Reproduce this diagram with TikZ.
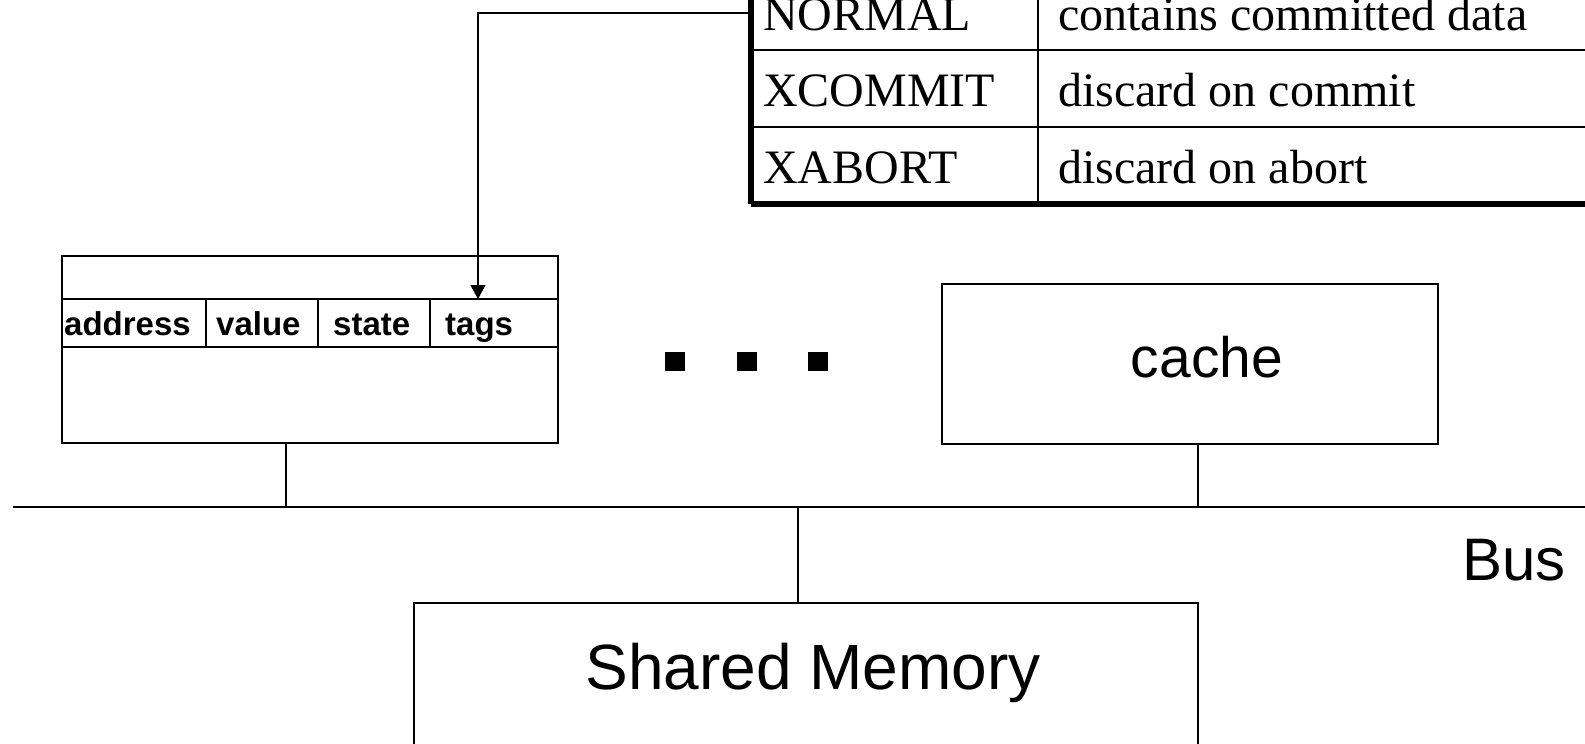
\documentclass[tikz,border=0pt]{standalone}
\usepackage{fontspec}
\setmainfont{Liberation Serif}
\newfontfamily\arialfont{Liberation Sans}
\usetikzlibrary{arrows.meta}

\begin{document}
\begin{tikzpicture}[x=1pt,y=-1pt,
  frame/.style={draw, line width=2pt, inner sep=0pt, outer sep=0pt},
  wire/.style={line width=1.4pt},
  rule/.style={line width=2pt},
  tabtext/.style={font=\fontsize{48}{56}\selectfont, anchor=base west, inner sep=0pt},
  fieldtext/.style={font=\arialfont\bfseries\fontsize{33}{38}\selectfont, anchor=base west, inner sep=0pt},
  bigtext/.style={font=\arialfont\fontsize{60}{70}\selectfont, anchor=base, inner sep=0pt},
  dotmark/.style={fill, minimum width=20pt, minimum height=19pt, inner sep=0pt, outer sep=0pt}]
\useasboundingbox (0,0) rectangle (1585,744);
\clip (0,0) rectangle (1585,744);

% state table (shadowed frame, running off the top and right)
\draw[line width=3pt] (752,-40) -- (752,205) -- (1600,205);
\draw[line width=3pt] (749,-40) -- (749,202) -- (1600,202);
\draw[rule] (749,50) -- (1600,50) (749,127) -- (1600,127);
\draw[line width=1.3pt] (1038,-40) -- (1038,202);
\node[tabtext] (t-normal)  at (763,30)  {NORMAL};
\node[tabtext] (t-xcommit) at (763,106) {XCOMMIT};
\node[tabtext] (t-xabort)  at (763,183) {XABORT};
\node[tabtext] (d-normal)  at (1058,30)  {contains committed data};
\node[tabtext] (d-xcommit) at (1058,106) {discard on commit};
\node[tabtext] (d-xabort)  at (1058,183) {discard on abort};

% cache line layout
\node[frame, minimum width=496pt, minimum height=187pt] (lcache) at (310,349.5) {};
\draw[rule] (62,299) -- (558,299) (62,347) -- (558,347);
\draw[rule] (206,299) -- (206,347) (318,299) -- (318,347) (430,299) -- (430,347);
\node[fieldtext] (f-address) at (64,335)  {address};
\node[fieldtext] (f-value)   at (216,335) {value};
\node[fieldtext] (f-state)   at (333,335) {state};
\node[fieldtext] (f-tags)    at (445,335) {tags};

% pointer from the table to the tags field
\coordinate (tbl-port) at (749,13);
\coordinate (tags-port) at (478,299);
\draw[wire, -{Triangle[length=14pt,width=15pt]}] (tbl-port) -| (tags-port);

% ellipsis
\node[dotmark] (dot1) at (675,361.5) {};
\node[dotmark] (dot2) at (747,361.5) {};
\node[dotmark] (dot3) at (818,361.5) {};

% other cache
\node[frame, minimum width=496pt, minimum height=160pt] (rcache) at (1190,364) {};
\node[bigtext, font=\arialfont\fontsize{57}{66}\selectfont] (rcache-label) at (1207,377) {cache};

% bus
\coordinate (bus-w) at (13,507);
\coordinate (bus-e) at (1600,507);
\draw[rule] (bus-w) -- (bus-e);
\node[bigtext, anchor=base east] (bus-label) at (1566,580) {Bus};

\coordinate (lc-port) at (286,443);
\coordinate (rc-port) at (1198,444);
\draw[wire] (lc-port) -- (lc-port |- bus-w);
\draw[wire] (rc-port) -- (rc-port |- bus-w);

% shared memory
\node[frame, minimum width=784pt, minimum height=220pt, anchor=north] (mem) at (806,603) {};
\coordinate (mem-port) at (798,603);
\draw[wire] (mem-port |- bus-w) -- (mem-port);
\node[bigtext, font=\arialfont\fontsize{64}{74}\selectfont] (mem-label) at (813,689) {Shared Memory};
\end{tikzpicture}
\end{document}
